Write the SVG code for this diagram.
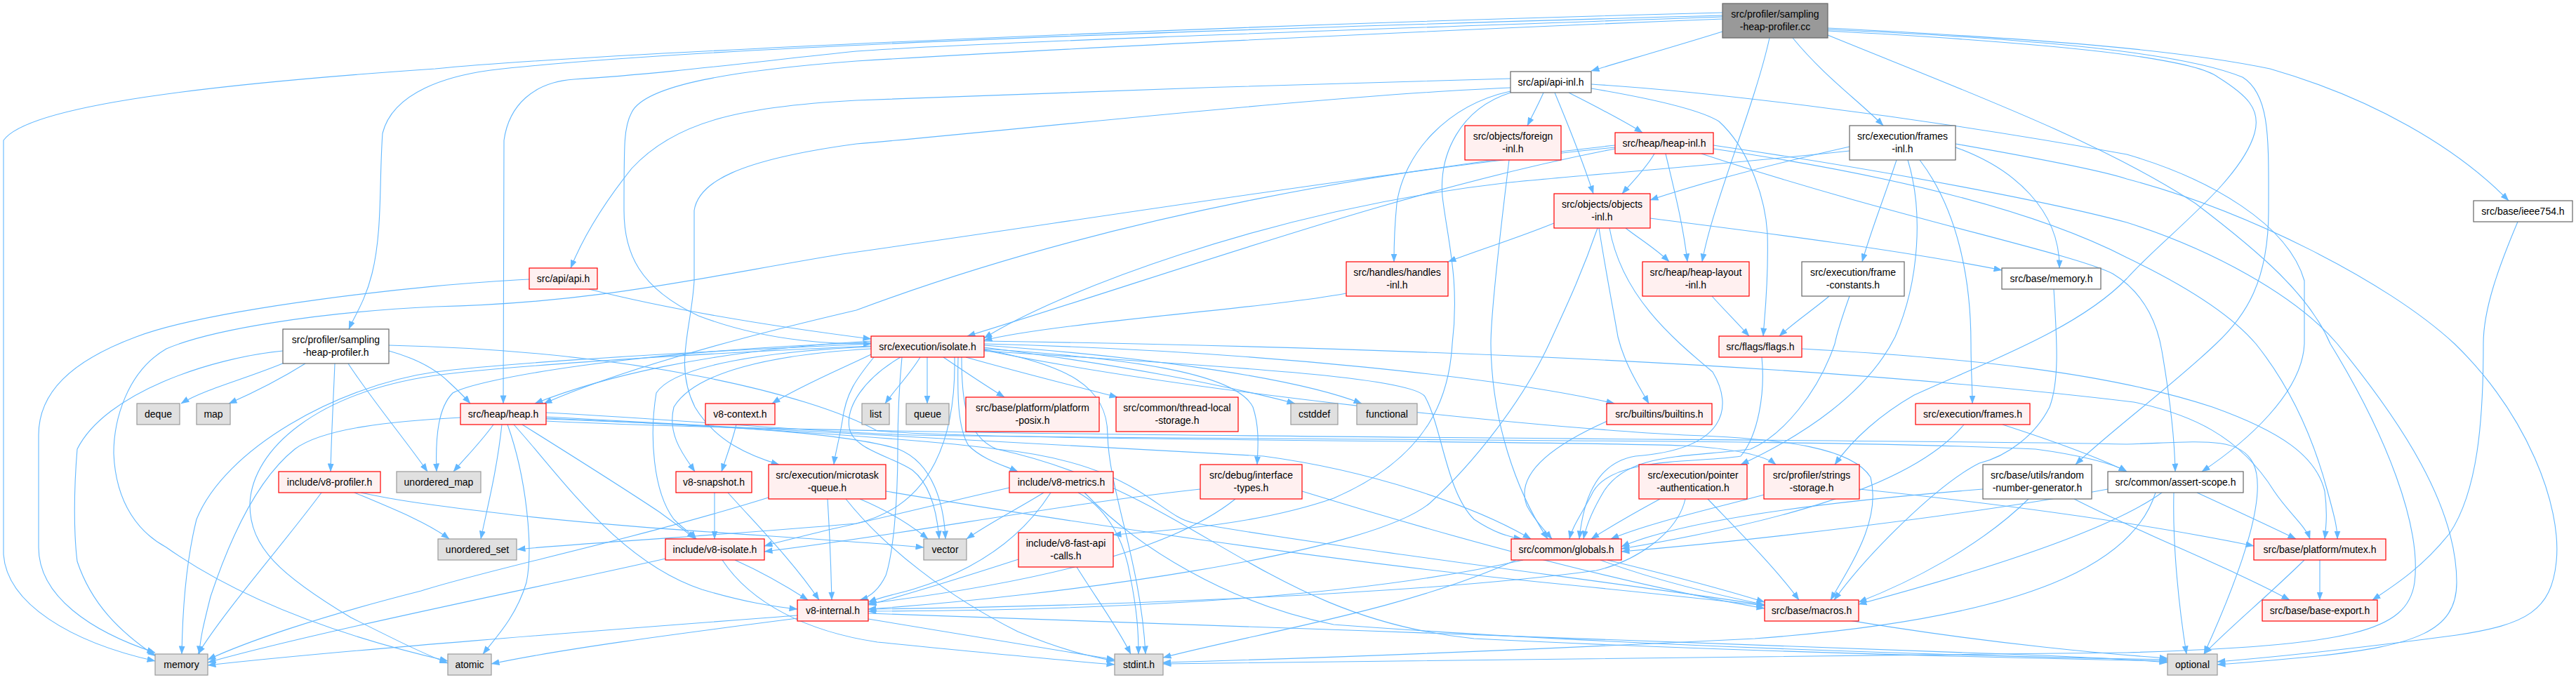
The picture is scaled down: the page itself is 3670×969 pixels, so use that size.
<svg xmlns="http://www.w3.org/2000/svg" width="3670" height="969" viewBox="0 0 3670 969">
<style>
.e{fill:none;stroke:#63b8ff;stroke-width:1.1;marker-end:url(#a)}
.n rect{stroke-width:1.2}
.r rect{fill:#fff0f0;stroke:#ff0000}
.w rect{fill:#ffffff;stroke:#666666}
.g rect{fill:#e0e0e0;stroke:#999999}
.k rect{fill:#999999;stroke:#666666}
text{font-family:"Liberation Sans",Arial,Helvetica,sans-serif;font-size:14px;text-anchor:middle;fill:#000000}
</style>
<defs>
<marker id="a" markerUnits="userSpaceOnUse" markerWidth="12" markerHeight="9" viewBox="0 0 12 9" refX="11.5" refY="4.5" orient="auto"><path d="M0,0 L12,4.5 L0,9 Z" fill="#63b8ff"/></marker>
</defs>
<rect x="0" y="0" width="3670" height="969" fill="#ffffff"/>
<g id="edges">
<path class="e" d="M2454,45 C2390,65 2310,88 2267,101"/>
<path class="e" d="M2521,54 C2500,150 2440,290 2425,373"/>
<path class="e" d="M2554,54 C2600,110 2650,145 2683,179"/>
<path class="e" d="M2604,40 C2900,55 3100,70 3234,98 C3380,140 3500,210 3574,286"/>
<path class="e" d="M2604,42 C2900,55 3110,75 3195,110 C3235,135 3232,200 3232,300 C3232,400 3200,450 3157,490 C3100,545 3000,620 2957,662"/>
<path class="e" d="M2604,44 C2900,60 3120,80 3160,110 C3200,135 3222,155 3212,190 C3192,260 3080,340 3030,397 C2960,470 2820,520 2727,563 C2680,590 2640,625 2614,662"/>
<path class="e" d="M2454,22 C1800,40 1000,65 699,100 C640,108 560,130 545,190 C540,260 545,330 530,390 C520,430 505,450 497,469"/>
<path class="e" d="M2454,18 C1600,40 800,80 620,98 C300,120 40,150 5,200 L5,790 C10,860 100,915 221,942"/>
<path class="e" d="M2454,24 C2000,40 1400,60 1220,73 C1100,85 950,105 818,113 C760,117 725,150 718,200 L717,575"/>
<path class="e" d="M2454,27 C2000,45 1500,70 1220,87 C1050,100 920,120 900,160 C889,180 889,200 889,300 C889,360 910,410 995,450 C1100,490 1200,490 1241,490"/>
<path class="e" d="M2604,50 C2800,130 2990,200 3128,290 C3220,360 3290,420 3320,490 C3400,620 3450,750 3440,830 C3430,900 3350,920 3030,930 C2500,936 1900,941 1657,946"/>
<path class="e" d="M2152,112 C1900,118 1400,135 1220,143 C1050,152 960,175 900,240 C860,290 830,340 813,382"/>
<path class="e" d="M2152,125 C1900,135 1400,190 1220,205 C1050,228 995,260 989,300 L989,400 C985,470 960,520 990,580 C1020,630 1070,650 1110,662"/>
<path class="e" d="M2152,130 C2060,150 2000,220 1990,290 C1986,330 1986,350 1986,373"/>
<path class="e" d="M2152,132 C2080,155 2050,220 2055,280 C2062,340 2080,400 2069,490 C2065,560 2040,650 1900,710 C1800,745 1680,755 1586,762"/>
<path class="e" d="M2199,132 C2192,148 2184,163 2176,179"/>
<path class="e" d="M2215,132 C2235,180 2255,230 2270,276"/>
<path class="e" d="M2235,132 C2270,150 2310,170 2340,189"/>
<path class="e" d="M2267,120 C2400,128 2700,160 3030,220 C3150,255 3260,320 3283,400 L3283,490 C3280,560 3200,630 3137,672"/>
<path class="e" d="M2267,126 C2350,140 2420,155 2449,173 C2490,210 2515,280 2518,333 C2520,400 2514,450 2512,479"/>
<path class="e" d="M2357,219 C2345,240 2325,260 2311,276"/>
<path class="e" d="M2373,219 C2385,270 2398,320 2404,373"/>
<path class="e" d="M2301,212 C2000,270 1700,380 1378,479"/>
<path class="e" d="M2301,207 C2000,240 1600,300 1220,442 C1100,470 900,520 775,575"/>
<path class="e" d="M2301,210 C2000,240 1500,320 1200,362 C1000,395 850,432 620,437 C450,445 300,470 237,497 C180,530 162,600 162,646 C165,720 200,760 237,780 C350,860 500,910 638,942"/>
<path class="e" d="M2441,212 C2700,250 2900,300 3030,367 C3120,410 3180,450 3214,490 C3270,560 3300,640 3316,700 C3324,730 3330,750 3330,768"/>
<path class="e" d="M2424,219 C2700,310 2950,360 3010,390 C3060,420 3075,470 3080,500 C3092,570 3098,620 3099,672"/>
<path class="e" d="M2441,207 C2700,245 2930,290 3030,317 C3150,355 3270,420 3330,490 C3420,600 3500,720 3500,830 C3500,900 3440,920 3300,935 C3230,942 3190,945 3159,947"/>
<path class="e" d="M2786,205 C2900,225 3000,245 3030,255 C3200,300 3400,400 3497,490 C3600,590 3650,720 3642,800 C3635,870 3600,890 3500,905 C3350,925 3220,938 3159,943"/>
<path class="e" d="M2214,318 C2160,340 2110,355 2063,373"/>
<path class="e" d="M2316,325 C2335,340 2360,355 2378,373"/>
<path class="e" d="M2351,311 C2500,330 2700,355 2852,385"/>
<path class="e" d="M2278,325 C2290,400 2300,450 2305,480 C2315,520 2335,550 2349,575"/>
<path class="e" d="M2276,325 C2250,400 2225,450 2207,490 C2170,570 2100,660 2037,717 C1950,790 1500,850 1237,868"/>
<path class="e" d="M2293,325 C2310,420 2380,480 2440,530 C2470,580 2460,640 2330,650 C2270,660 2255,720 2250,768"/>
<path class="e" d="M1918,418 C1800,440 1500,460 1402,485"/>
<path class="e" d="M2439,422 C2455,440 2475,460 2492,479"/>
<path class="e" d="M2606,422 C2585,440 2555,460 2535,479"/>
<path class="e" d="M2635,422 C2625,450 2618,470 2614,490 C2590,560 2540,620 2494,640 C2400,652 2320,645 2285,700 C2270,725 2260,748 2256,768"/>
<path class="e" d="M2702,228 C2685,280 2665,330 2653,373"/>
<path class="e" d="M2786,210 C2870,240 2935,300 2934,382"/>
<path class="e" d="M2735,228 C2790,300 2808,400 2808,490 C2808,530 2810,550 2810,575"/>
<path class="e" d="M2718,228 C2740,300 2735,400 2700,480 C2660,560 2570,620 2480,662"/>
<path class="e" d="M2635,209 C2520,235 2420,262 2351,285"/>
<path class="e" d="M2635,215 C2450,235 2250,250 2150,260 C1800,300 1500,420 1402,482"/>
<path class="e" d="M2926,412 C2930,480 2935,540 2920,580 C2900,620 2860,650 2820,660 C2760,690 2660,790 2613,855"/>
<path class="e" d="M3587,316 C3560,380 3538,440 3538,490 C3538,600 3530,700 3490,760 C3450,810 3410,835 3380,855"/>
<path class="e" d="M405,517 C350,540 290,555 258,575"/>
<path class="e" d="M435,518 C400,540 360,560 326,575"/>
<path class="e" d="M477,518 C475,570 472,620 471,672"/>
<path class="e" d="M496,518 C530,570 580,630 609,672"/>
<path class="e" d="M403,500 C300,510 150,560 110,640 C105,700 105,760 110,800 C130,860 170,900 222,935"/>
<path class="e" d="M554,500 C590,510 620,525 640,545 C652,556 662,566 670,575"/>
<path class="e" d="M554,492 C900,500 1150,560 1250,614 C1400,628 2200,628 2400,635 C2480,640 2515,650 2530,662"/>
<path class="e" d="M458,702 C400,780 320,870 282,932"/>
<path class="e" d="M505,702 C560,725 610,745 640,768"/>
<path class="e" d="M514,702 C560,712 600,718 700,730 C900,755 1150,765 1316,780"/>
<path class="e" d="M703,605 C685,630 665,650 646,672"/>
<path class="e" d="M715,605 C708,670 695,720 685,768"/>
<path class="e" d="M723,605 C750,680 760,780 750,830 C735,880 705,910 688,932"/>
<path class="e" d="M656,595 C560,600 460,610 420,640 C370,680 330,760 300,850 C290,890 285,910 284,932"/>
<path class="e" d="M744,605 C800,640 880,690 940,730 C960,745 975,755 990,768"/>
<path class="e" d="M732,605 C800,680 880,800 1000,840 C1060,858 1100,864 1136,868"/>
<path class="e" d="M778,594 C1200,620 1600,640 1800,650 C1950,670 2100,720 2181,768"/>
<path class="e" d="M778,596 C1100,610 1350,630 1420,640 C1620,660 1650,735 1700,745 C1900,780 2300,830 2514,862"/>
<path class="e" d="M778,588 C1000,600 1150,615 1300,620 C1800,628 2600,625 2900,640 C2960,648 3010,660 3030,672"/>
<path class="e" d="M778,600 C1300,625 2700,625 3030,633 C3130,630 3190,620 3210,660 C3230,700 3200,800 3140,932"/>
<path class="e" d="M778,597 C1000,605 1200,615 1280,640 C1330,660 1345,720 1347,768"/>
<path class="e" d="M1311,509 C1295,535 1275,555 1261,575"/>
<path class="e" d="M1321,509 L1321,575"/>
<path class="e" d="M1344,509 C1375,530 1405,550 1431,566"/>
<path class="e" d="M1376,509 C1450,530 1530,550 1592,566"/>
<path class="e" d="M1283,509 C1230,540 1205,580 1210,610 C1215,640 1270,650 1300,670 C1325,690 1335,730 1338,768"/>
<path class="e" d="M1241,505 C1200,525 1140,550 1100,575"/>
<path class="e" d="M1402,495 C1600,520 1750,550 1845,575"/>
<path class="e" d="M1402,492 C1650,510 1850,540 1940,575"/>
<path class="e" d="M1402,490 C1800,500 2150,540 2300,575"/>
<path class="e" d="M1402,497 C1600,510 1760,530 1785,580 C1795,610 1792,640 1791,662"/>
<path class="e" d="M1402,500 C1700,520 2010,535 2030,565 C2055,610 2060,700 2100,740 C2130,760 2150,765 2168,768"/>
<path class="e" d="M1245,509 C1220,540 1205,560 1200,600 C1195,630 1190,645 1188,662"/>
<path class="e" d="M1365,509 C1364,560 1364,610 1380,635 C1400,655 1430,663 1450,672"/>
<path class="e" d="M1241,497 C1100,505 990,530 960,580 C950,620 975,650 990,672"/>
<path class="e" d="M1241,494 C1100,500 960,520 935,560 C925,620 930,700 960,740 C975,755 985,760 992,768"/>
<path class="e" d="M1285,509 C1280,560 1279,600 1279,640 C1279,720 1272,790 1262,820 C1250,845 1235,852 1225,855"/>
<path class="e" d="M1241,490 C900,505 700,520 620,530 C480,550 320,640 280,740 C265,800 260,870 259,932"/>
<path class="e" d="M1241,493 C900,508 700,525 620,535 C450,560 360,640 356,717 C355,780 400,820 500,880 C560,910 600,930 638,945"/>
<path class="e" d="M1241,488 C900,500 680,540 645,560 C625,580 620,620 622,672"/>
<path class="e" d="M1360,509 C1362,620 1330,720 1220,746 C1000,765 800,776 737,783"/>
<path class="e" d="M1370,509 C1370,560 1372,620 1420,640 C1700,700 1800,880 2100,910 C2500,930 2900,938 3088,942"/>
<path class="e" d="M1402,486 C2000,495 2600,520 3040,573 C3120,590 3190,620 3240,700 C3260,730 3285,750 3291,768"/>
<path class="e" d="M1402,499 C1700,560 2200,610 2400,620 C2550,625 2640,640 2665,680 C2680,740 2640,800 2608,855"/>
<path class="e" d="M1241,486 C1000,500 850,540 762,575"/>
<path class="e" d="M1402,498 C1520,520 1578,550 1578,620 C1580,700 1625,800 1632,932"/>
<path class="e" d="M1225,711 C1270,730 1300,750 1322,768"/>
<path class="e" d="M1179,711 C1182,760 1184,810 1185,855"/>
<path class="e" d="M1205,711 C1260,780 1350,850 1450,900 C1510,925 1550,935 1588,942"/>
<path class="e" d="M1098,708 C900,770 700,810 600,842 C450,880 350,915 296,940"/>
<path class="e" d="M1262,700 C1500,740 1900,800 2200,830 C2400,850 2470,858 2514,863"/>
<path class="e" d="M1049,605 C1043,630 1035,650 1028,672"/>
<path class="e" d="M1018,702 L1018,768"/>
<path class="e" d="M1037,702 C1080,750 1130,800 1167,855"/>
<path class="e" d="M1047,798 C1085,815 1120,835 1151,855"/>
<path class="e" d="M948,796 C800,830 450,900 296,944"/>
<path class="e" d="M1029,798 C1070,860 1150,900 1250,915 C1400,930 1500,940 1588,947"/>
<path class="e" d="M1136,877 C900,895 500,925 296,948"/>
<path class="e" d="M1136,881 C950,905 800,925 700,946"/>
<path class="e" d="M1237,882 C1380,905 1500,925 1588,940"/>
<path class="e" d="M1237,874 C1700,890 2400,915 2800,930 C2950,935 3040,940 3088,944"/>
<path class="e" d="M1487,702 C1450,725 1410,745 1377,768"/>
<path class="e" d="M1497,702 C1460,760 1400,810 1300,840 C1275,847 1258,850 1237,858"/>
<path class="e" d="M1536,702 C1570,720 1600,760 1610,820 C1620,870 1622,900 1622,932"/>
<path class="e" d="M1438,695 C1350,715 1250,740 1180,755 C1140,765 1110,772 1089,778"/>
<path class="e" d="M1545,702 C1620,780 1750,860 1900,890 C2300,920 2800,935 3088,940"/>
<path class="e" d="M1451,797 C1380,820 1300,845 1237,862"/>
<path class="e" d="M1534,808 C1560,850 1590,890 1611,932"/>
<path class="e" d="M1710,697 C1500,720 1300,760 1089,786"/>
<path class="e" d="M1855,700 C2050,760 2300,830 2514,867"/>
<path class="e" d="M1760,711 C1650,800 1400,840 1237,860"/>
<path class="e" d="M2290,600 C2200,640 2160,680 2175,720 C2185,740 2200,755 2211,768"/>
<path class="e" d="M2170,798 C1900,860 1500,870 1237,871"/>
<path class="e" d="M2160,798 C2000,870 1800,900 1657,937"/>
<path class="e" d="M2290,798 C2360,815 2440,835 2514,858"/>
<path class="e" d="M2280,798 C2500,880 2900,925 3088,938"/>
<path class="e" d="M2365,711 C2330,730 2295,750 2267,768"/>
<path class="e" d="M2433,711 C2480,760 2530,810 2563,855"/>
<path class="e" d="M2401,711 C2390,760 2330,800 2274,813 C2000,850 1500,865 1237,868"/>
<path class="e" d="M2513,705 C2440,725 2350,745 2295,768"/>
<path class="e" d="M2649,697 C2850,718 3050,745 3211,778"/>
<path class="e" d="M2825,697 C2600,715 2400,740 2310,779"/>
<path class="e" d="M2890,711 C2820,780 2720,830 2648,858"/>
<path class="e" d="M2955,711 C3050,760 3180,810 3262,855"/>
<path class="e" d="M3003,697 C2800,735 2500,770 2310,786"/>
<path class="e" d="M3080,702 C3000,760 2800,820 2648,861"/>
<path class="e" d="M3130,702 C3180,725 3230,748 3271,768"/>
<path class="e" d="M3097,702 C3095,780 3105,870 3115,932"/>
<path class="e" d="M3071,702 C3040,800 2900,880 2500,910 C2100,930 1800,940 1657,944"/>
<path class="e" d="M3305,798 L3305,855"/>
<path class="e" d="M3283,798 C3230,850 3170,900 3140,932"/>
<path class="e" d="M2510,509 C2515,560 2505,620 2480,650 C2420,660 2300,650 2270,700 C2255,730 2240,750 2236,768"/>
<path class="e" d="M2567,497 C2800,510 3000,530 3152,580 C3250,615 3300,650 3312,700 C3316,730 3314,750 3312,768"/>
<path class="e" d="M2798,605 C2720,700 2500,750 2310,782"/>
<path class="e" d="M2853,605 C2930,630 2990,652 3030,672"/>
<path class="e" d="M839,412 C950,440 1100,465 1241,483"/>
<path class="e" d="M754,398 C600,405 300,440 194,480 C100,515 55,560 55,620 L55,780 C55,850 130,900 221,930"/>
<path class="e" d="M2150,228 C2135,350 2124,450 2124,490 C2125,600 2160,700 2205,768"/>
</g>
<g id="n-root" class="n k"><rect x="2454" y="5" width="150" height="49"/><text x="2529" y="25">src/profiler/sampling</text><text x="2529" y="43">-heap-profiler.cc</text></g>
<g id="n-api-inl" class="n w"><rect x="2152" y="102" width="115" height="30"/><text x="2209.5" y="122">src/api/api-inl.h</text></g>
<g id="n-foreign-inl" class="n r"><rect x="2087" y="179" width="137" height="49"/><text x="2155.5" y="199">src/objects/foreign</text><text x="2155.5" y="217">-inl.h</text></g>
<g id="n-heap-inl" class="n r"><rect x="2301" y="189" width="140" height="30"/><text x="2371" y="209">src/heap/heap-inl.h</text></g>
<g id="n-frames-inl" class="n w"><rect x="2635" y="179" width="151" height="49"/><text x="2710.5" y="199">src/execution/frames</text><text x="2710.5" y="217">-inl.h</text></g>
<g id="n-objects-inl" class="n r"><rect x="2214" y="276" width="137" height="49"/><text x="2282.5" y="296">src/objects/objects</text><text x="2282.5" y="314">-inl.h</text></g>
<g id="n-api" class="n r"><rect x="754" y="382" width="97" height="30"/><text x="802.5" y="402">src/api/api.h</text></g>
<g id="n-handles-inl" class="n r"><rect x="1918" y="373" width="145" height="49"/><text x="1990.5" y="393">src/handles/handles</text><text x="1990.5" y="411">-inl.h</text></g>
<g id="n-heap-layout-inl" class="n r"><rect x="2340" y="373" width="152" height="49"/><text x="2416" y="393">src/heap/heap-layout</text><text x="2416" y="411">-inl.h</text></g>
<g id="n-frame-constants" class="n w"><rect x="2567" y="373" width="146" height="49"/><text x="2640" y="393">src/execution/frame</text><text x="2640" y="411">-constants.h</text></g>
<g id="n-base-memory" class="n w"><rect x="2852" y="382" width="141" height="30"/><text x="2922.5" y="402">src/base/memory.h</text></g>
<g id="n-ieee754" class="n w"><rect x="3524" y="286" width="141" height="30"/><text x="3594.5" y="306">src/base/ieee754.h</text></g>
<g id="n-shp-h" class="n w"><rect x="403" y="469" width="151" height="49"/><text x="478.5" y="489">src/profiler/sampling</text><text x="478.5" y="507">-heap-profiler.h</text></g>
<g id="n-isolate" class="n r"><rect x="1241" y="479" width="161" height="30"/><text x="1321.5" y="499">src/execution/isolate.h</text></g>
<g id="n-flags" class="n r"><rect x="2449" y="479" width="118" height="30"/><text x="2508" y="499">src/flags/flags.h</text></g>
<g id="n-deque" class="n g"><rect x="195" y="575" width="61" height="30"/><text x="225.5" y="595">deque</text></g>
<g id="n-map" class="n g"><rect x="280" y="575" width="48" height="30"/><text x="304" y="595">map</text></g>
<g id="n-heap" class="n r"><rect x="656" y="575" width="122" height="30"/><text x="717" y="595">src/heap/heap.h</text></g>
<g id="n-v8-context" class="n r"><rect x="1005" y="575" width="99" height="30"/><text x="1054.5" y="595">v8-context.h</text></g>
<g id="n-list" class="n g"><rect x="1228" y="575" width="39" height="30"/><text x="1247.5" y="595">list</text></g>
<g id="n-queue" class="n g"><rect x="1291" y="575" width="61" height="30"/><text x="1321.5" y="595">queue</text></g>
<g id="n-platform-posix" class="n r"><rect x="1376" y="566" width="190" height="49"/><text x="1471" y="586">src/base/platform/platform</text><text x="1471" y="604">-posix.h</text></g>
<g id="n-thread-local" class="n r"><rect x="1590" y="566" width="174" height="49"/><text x="1677" y="586">src/common/thread-local</text><text x="1677" y="604">-storage.h</text></g>
<g id="n-cstddef" class="n g"><rect x="1839" y="575" width="67" height="30"/><text x="1872.5" y="595">cstddef</text></g>
<g id="n-functional" class="n g"><rect x="1933" y="575" width="86" height="30"/><text x="1976" y="595">functional</text></g>
<g id="n-builtins" class="n r"><rect x="2289" y="575" width="150" height="30"/><text x="2364" y="595">src/builtins/builtins.h</text></g>
<g id="n-frames" class="n r"><rect x="2729" y="575" width="163" height="30"/><text x="2810.5" y="595">src/execution/frames.h</text></g>
<g id="n-v8-profiler" class="n r"><rect x="397" y="672" width="145" height="30"/><text x="469.5" y="692">include/v8-profiler.h</text></g>
<g id="n-unordered-map" class="n g"><rect x="565" y="672" width="120" height="30"/><text x="625" y="692">unordered_map</text></g>
<g id="n-v8-snapshot" class="n r"><rect x="963" y="672" width="108" height="30"/><text x="1017" y="692">v8-snapshot.h</text></g>
<g id="n-microtask" class="n r"><rect x="1095" y="662" width="167" height="49"/><text x="1178.5" y="682">src/execution/microtask</text><text x="1178.5" y="700">-queue.h</text></g>
<g id="n-v8-metrics" class="n r"><rect x="1438" y="672" width="148" height="30"/><text x="1512" y="692">include/v8-metrics.h</text></g>
<g id="n-interface-types" class="n r"><rect x="1710" y="662" width="145" height="49"/><text x="1782.5" y="682">src/debug/interface</text><text x="1782.5" y="700">-types.h</text></g>
<g id="n-pointer-auth" class="n r"><rect x="2335" y="662" width="154" height="49"/><text x="2412" y="682">src/execution/pointer</text><text x="2412" y="700">-authentication.h</text></g>
<g id="n-strings-storage" class="n r"><rect x="2513" y="662" width="136" height="49"/><text x="2581" y="682">src/profiler/strings</text><text x="2581" y="700">-storage.h</text></g>
<g id="n-random" class="n w"><rect x="2825" y="662" width="155" height="49"/><text x="2902.5" y="682">src/base/utils/random</text><text x="2902.5" y="700">-number-generator.h</text></g>
<g id="n-assert-scope" class="n w"><rect x="3003" y="672" width="193" height="30"/><text x="3099.5" y="692">src/common/assert-scope.h</text></g>
<g id="n-unordered-set" class="n g"><rect x="624" y="768" width="112" height="30"/><text x="680" y="788">unordered_set</text></g>
<g id="n-vector" class="n g"><rect x="1316" y="768" width="61" height="30"/><text x="1346.5" y="788">vector</text></g>
<g id="n-v8-isolate" class="n r"><rect x="948" y="768" width="141" height="30"/><text x="1018.5" y="788">include/v8-isolate.h</text></g>
<g id="n-fast-api" class="n r"><rect x="1451" y="759" width="135" height="49"/><text x="1518.5" y="779">include/v8-fast-api</text><text x="1518.5" y="797">-calls.h</text></g>
<g id="n-globals" class="n r"><rect x="2153" y="768" width="157" height="30"/><text x="2231.5" y="788">src/common/globals.h</text></g>
<g id="n-mutex" class="n r"><rect x="3211" y="768" width="188" height="30"/><text x="3305" y="788">src/base/platform/mutex.h</text></g>
<g id="n-v8-internal" class="n r"><rect x="1136" y="855" width="101" height="30"/><text x="1186.5" y="875">v8-internal.h</text></g>
<g id="n-macros" class="n r"><rect x="2514" y="855" width="134" height="30"/><text x="2581" y="875">src/base/macros.h</text></g>
<g id="n-base-export" class="n r"><rect x="3223" y="855" width="164" height="30"/><text x="3305" y="875">src/base/base-export.h</text></g>
<g id="n-memory" class="n g"><rect x="221" y="932" width="75" height="30"/><text x="258.5" y="952">memory</text></g>
<g id="n-atomic" class="n g"><rect x="638" y="932" width="62" height="30"/><text x="669" y="952">atomic</text></g>
<g id="n-stdint" class="n g"><rect x="1588" y="932" width="69" height="30"/><text x="1622.5" y="952">stdint.h</text></g>
<g id="n-optional" class="n g"><rect x="3088" y="932" width="71" height="30"/><text x="3123.5" y="952">optional</text></g>
</svg>
